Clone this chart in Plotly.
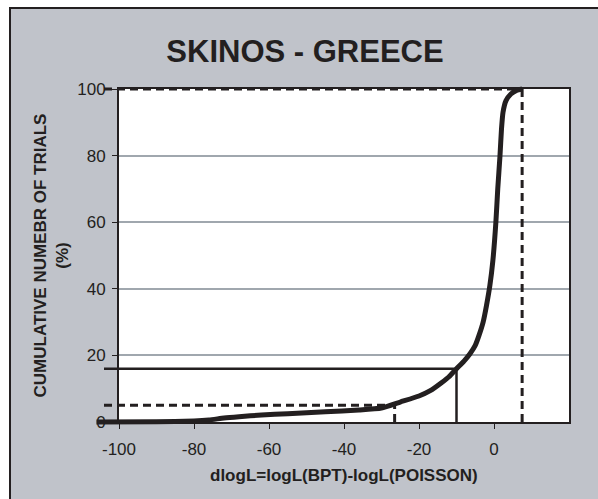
import plotly.graph_objects as go

# Cumulative distribution curve
curve_x = [-106, -90, -80, -76, -72, -68, -62, -55, -45, -36, -30, -25, -20, -17,
           -14, -12, -10, -8, -6.4, -5, -4, -2.9, -2, -1.1, -0.3, 0.5, 1.0, 1.6,
           2.0, 2.4, 3.2, 4.5, 6, 7.5]
curve_y = [0, 0.1, 0.3, 0.6, 1.2, 1.6, 2.1, 2.5, 3.1, 3.6, 4.2, 6.0, 7.8, 9.4,
           11.8, 13.6, 16, 18.3, 20.5, 23, 26, 30, 35, 41, 48.5, 60, 70, 80,
           88, 93, 96.5, 98.5, 99.6, 100]

# Reference lines: (x0, y0, x1, y1, dashed)
ref_x0 = [-104, 7.5, -104, -10, -104, -26.5]
ref_y0 = [100, 0, 16, 0, 5, 0]
ref_x1 = [7.5, 7.5, -10, -10, -26.5, -26.5]
ref_y1 = [100, 100, 16, 16, 5, 5]
ref_dashed = [True, True, False, False, True, True]

x_ticks = [-100, -80, -60, -40, -20, 0]
x_labels = ["-100", "-80", "-60", "-40", "-20", "0"]
y_ticks = [0, 20, 40, 60, 80, 100]
y_labels = ["0", "20", "40", "60", "80", "100"]

X_RANGE = [-100, 20]
Y_RANGE = [0, 100]

INK = "#231F20"
BG = "#C0C3CA"
GRID = "#A0A7AE"
FONT = "Liberation Sans, Arial, sans-serif"

W, H = 598, 499
# main plot area (pixels)
L, R, T, B = 119, 569, 89, 422
# paper area (slightly larger, so marks may run past the axes as in the original)
PL, PR, PT, PB = 95, 575, 78, 434
pw, ph = PR - PL, PB - PT


def px2paper_x(p):
    return (p - PL) / pw


def px2paper_y(p):
    return (PB - p) / ph


sx = (R - L) / (X_RANGE[1] - X_RANGE[0])
sy = (B - T) / (Y_RANGE[1] - Y_RANGE[0])
# overlay subplot spans the whole paper area with the same scale
X2_RANGE = [X_RANGE[0] - (L - PL) / sx, X_RANGE[1] + (PR - R) / sx]
Y2_RANGE = [Y_RANGE[0] - (PB - B) / sy, Y_RANGE[1] + (T - PT) / sy]

fig = go.Figure()
# empty trace so the main (framed) subplot is created
fig.add_trace(go.Scatter(x=[], y=[], mode="lines", showlegend=False, hoverinfo="skip"))
for x0, y0, x1, y1, d in zip(ref_x0, ref_y0, ref_x1, ref_y1, ref_dashed):
    fig.add_trace(go.Scatter(x=[x0, x1], y=[y0, y1], mode="lines", xaxis="x2", yaxis="y2",
                             line=dict(color=INK, width=3 if d else 2.5,
                                       dash="8px,5px" if d else "solid"),
                             showlegend=False, hoverinfo="skip"))
fig.add_trace(go.Scatter(x=curve_x, y=curve_y, mode="lines", xaxis="x2", yaxis="y2",
                         line=dict(color=INK, width=5, shape="spline", smoothing=0.5),
                         showlegend=False, hoverinfo="skip"))

shapes = [
    dict(type="rect", xref="paper", yref="paper",
         x0=px2paper_x(10), x1=px2paper_x(W + 20), y0=px2paper_y(H + 20), y1=px2paper_y(8),
         fillcolor=BG, line=dict(color=INK, width=2), layer="below"),
    dict(type="rect", xref="paper", yref="paper",
         x0=px2paper_x(L), x1=px2paper_x(R), y0=px2paper_y(B), y1=px2paper_y(T),
         fillcolor="white", line=dict(width=0), layer="below"),
]

axis_font = dict(family=FONT, size=17, color=INK)

fig.update_layout(
    width=W, height=H,
    margin=dict(l=PL, r=W - PR, t=PT, b=H - PB),
    paper_bgcolor="white", plot_bgcolor="rgba(0,0,0,0)",
    shapes=shapes,
    title=dict(text="<b>SKINOS - GREECE</b>", x=305 / W, xref="container",
               y=1 - 51 / H, yref="container", yanchor="middle", xanchor="center",
               font=dict(family=FONT, size=31, color=INK)),
    font=dict(family=FONT, color=INK, size=17),
    xaxis=dict(domain=[px2paper_x(L), px2paper_x(R)], range=X_RANGE,
               tickvals=x_ticks, ticktext=x_labels, showgrid=False, zeroline=False,
               showline=True, linecolor=INK, linewidth=2, mirror=True,
               ticks="outside", ticklen=5, tickcolor=INK, tickwidth=1,
               ticklabelstandoff=6, tickfont=axis_font, anchor="y"),
    yaxis=dict(domain=[px2paper_y(B), px2paper_y(T)], range=Y_RANGE,
               tickvals=y_ticks, ticktext=y_labels, showgrid=True, gridcolor=GRID,
               gridwidth=2, zeroline=False,
               showline=True, linecolor=INK, linewidth=2, mirror=True,
               ticks="outside", ticklen=5, tickcolor=INK, tickwidth=1,
               ticklabelstandoff=3, tickfont=axis_font, anchor="x"),
    xaxis2=dict(domain=[0, 1], range=X2_RANGE, visible=False, anchor="y2"),
    yaxis2=dict(domain=[0, 1], range=Y2_RANGE, visible=False, anchor="x2"),
    annotations=[
        dict(text="<b>dlogL=logL(BPT)-logL(POISSON)</b>", xref="paper", yref="paper",
             x=(px2paper_x(L) + px2paper_x(R)) / 2, y=px2paper_y(475), showarrow=False,
             xanchor="center", yanchor="middle", font=axis_font),
        dict(text="<b>CUMULATIVE NUMEBR OF TRIALS<br>(%)</b>", xref="paper", yref="paper",
             x=px2paper_x(51), y=(px2paper_y(B) + px2paper_y(T)) / 2, showarrow=False,
             textangle=-90, xanchor="center", yanchor="middle", font=axis_font),
    ],
)

fig.write_html("out.html")
